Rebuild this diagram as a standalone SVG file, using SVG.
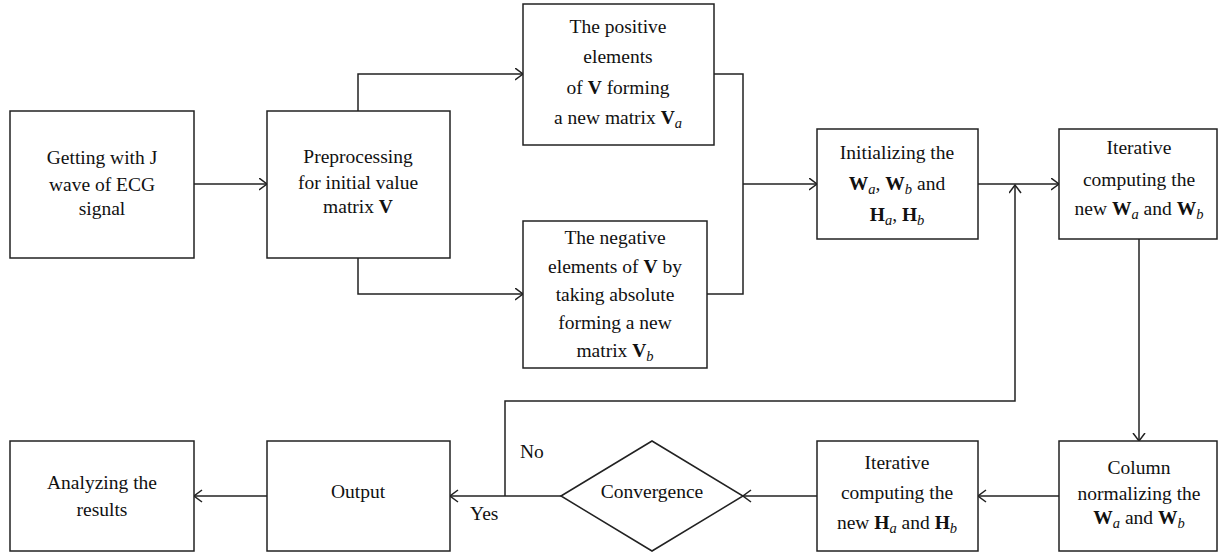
<svg xmlns="http://www.w3.org/2000/svg" width="1218" height="554" viewBox="0 0 1218 554" font-family="'Liberation Serif', 'Times New Roman', serif">
<style>
.box{fill:#fff;stroke:#222;stroke-width:1.5}
.con{fill:none;stroke:#222;stroke-width:1.5}
text{font-family:"Liberation Serif","Times New Roman",serif;font-size:19.5px;fill:#111;text-anchor:middle}
.lbl{text-anchor:start}
.b{font-weight:bold}
.s{font-style:italic;font-size:14.5px}
</style>
<defs>
<marker id="arr" markerUnits="userSpaceOnUse" markerWidth="10" markerHeight="14" refX="8.5" refY="6.5" orient="auto">
<path d="M0.5,0.5 L8.5,6.5 L0.5,12.5" fill="none" stroke="#222" stroke-width="1.5"/>
</marker>
</defs>
<rect width="1218" height="554" fill="#fff"/>
<g id="connectors">
<path class="con" d="M194,184 H267" marker-end="url(#arr)"/>
<path class="con" d="M358,111 V74 H523" marker-end="url(#arr)"/>
<path class="con" d="M358,258 V294 H523" marker-end="url(#arr)"/>
<path class="con" d="M714,74 H743 V294 H707"/>
<path class="con" d="M743,184 H817" marker-end="url(#arr)"/>
<path class="con" d="M978,184 H1059" marker-end="url(#arr)"/>
<path class="con" d="M505,496 V401 H1015 V185" marker-end="url(#arr)"/>
<path class="con" d="M1139,239 V441" marker-end="url(#arr)"/>
<path class="con" d="M1059,496 H978" marker-end="url(#arr)"/>
<path class="con" d="M817,496 H743" marker-end="url(#arr)"/>
<path class="con" d="M561,496 H450" marker-end="url(#arr)"/>
<path class="con" d="M267,496 H194" marker-end="url(#arr)"/>
<text class="lbl" x="520" y="458">No</text>
<text class="lbl" x="470" y="520">Yes</text>
</g>
<g id="getting">
<rect class="box" x="10" y="111" width="184" height="147"/>
<text x="102" y="164">Getting with J</text>
<text x="102" y="191">wave of ECG</text>
<text x="102" y="215">signal</text>
</g>
<g id="preprocessing">
<rect class="box" x="267" y="111" width="183" height="147"/>
<text x="358" y="163">Preprocessing</text>
<text x="358" y="189">for initial value</text>
<text x="358" y="213">matrix <tspan class="b">V</tspan></text>
</g>
<g id="positive">
<rect class="box" x="523" y="4" width="191" height="141"/>
<text x="618" y="33">The positive</text>
<text x="618" y="63">elements</text>
<text x="618" y="94">of <tspan class="b">V</tspan> forming</text>
<text x="618" y="124">a new matrix <tspan class="b">V</tspan><tspan class="s" dy="4">a</tspan></text>
</g>
<g id="negative">
<rect class="box" x="523" y="221" width="184" height="147"/>
<text x="615" y="244">The negative</text>
<text x="615" y="273">elements of <tspan class="b">V</tspan> by</text>
<text x="615" y="301">taking absolute</text>
<text x="615" y="329">forming a new</text>
<text x="615" y="357">matrix <tspan class="b">V</tspan><tspan class="s" dy="4">b</tspan></text>
</g>
<g id="initializing">
<rect class="box" x="817" y="129" width="161" height="110"/>
<text x="897" y="159">Initializing the</text>
<text x="897" y="190"><tspan class="b">W</tspan><tspan class="s" dy="4">a</tspan><tspan dy="-4">, </tspan><tspan class="b">W</tspan><tspan class="s" dy="4">b</tspan><tspan dy="-4"> and</tspan></text>
<text x="897" y="221"><tspan class="b">H</tspan><tspan class="s" dy="4">a</tspan><tspan dy="-4">, </tspan><tspan class="b">H</tspan><tspan class="s" dy="4">b</tspan></text>
</g>
<g id="iterW">
<rect class="box" x="1059" y="129" width="158" height="110"/>
<text x="1139" y="154">Iterative</text>
<text x="1139" y="186">computing the</text>
<text x="1139" y="215">new <tspan class="b">W</tspan><tspan class="s" dy="4">a</tspan><tspan dy="-4"> and </tspan><tspan class="b">W</tspan><tspan class="s" dy="4">b</tspan></text>
</g>
<g id="column">
<rect class="box" x="1059" y="441" width="158" height="110"/>
<text x="1139" y="474">Column</text>
<text x="1139" y="500">normalizing the</text>
<text x="1139" y="524"><tspan class="b">W</tspan><tspan class="s" dy="4">a</tspan><tspan dy="-4"> and </tspan><tspan class="b">W</tspan><tspan class="s" dy="4">b</tspan></text>
</g>
<g id="iterH">
<rect class="box" x="817" y="441" width="161" height="110"/>
<text x="897" y="469">Iterative</text>
<text x="897" y="499">computing the</text>
<text x="897" y="529">new <tspan class="b">H</tspan><tspan class="s" dy="4">a</tspan><tspan dy="-4"> and </tspan><tspan class="b">H</tspan><tspan class="s" dy="4">b</tspan></text>
</g>
<g id="convergence">
<polygon class="box" points="561,496 652,441 743,496 652,551"/>
<text x="652" y="498">Convergence</text>
</g>
<g id="output">
<rect class="box" x="267" y="441" width="183" height="110"/>
<text x="358" y="498">Output</text>
</g>
<g id="analyzing">
<rect class="box" x="10" y="441" width="184" height="110"/>
<text x="102" y="489">Analyzing the</text>
<text x="102" y="516">results</text>
</g>
</svg>
